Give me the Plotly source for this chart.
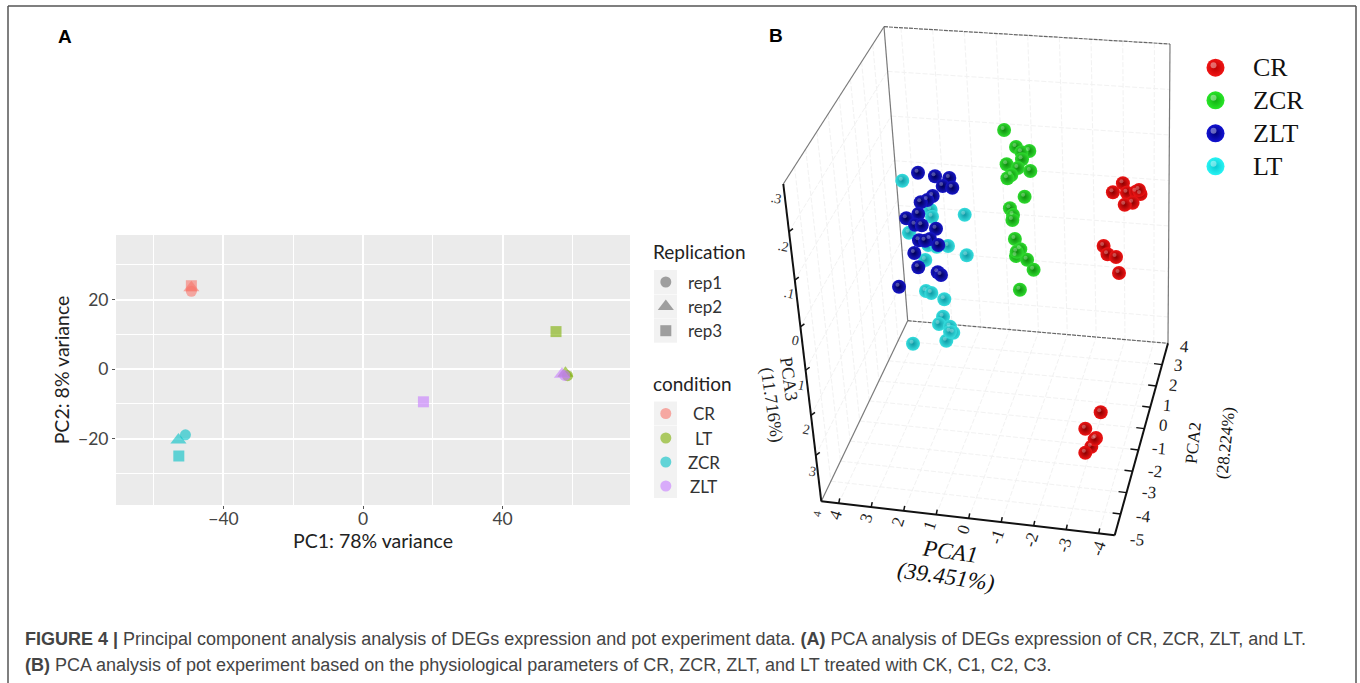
import plotly.graph_objects as go

W, H = 1360, 683

# ---------- Panel A data (PC1, PC2) ----------
conditions = ["CR", "LT", "ZCR", "ZLT"]
cond_colors = ["#F8766D", "#7CAE00", "#00BFC4", "#C77CFF"]
reps = ["rep1", "rep2", "rep3"]
rep_symbols = ["circle", "triangle-up", "square"]
rep_sizes = [11, 14, 11]
cr_pc1 = [-49.2, -49.2, -49.2]
cr_pc2 = [22.4, 23.4, 24.0]
lt_pc1 = [58.6, 58.0, 55.3]
lt_pc2 = [-1.9, -1.2, 10.8]
zcr_pc1 = [-50.9, -52.9, -52.8]
zcr_pc2 = [-18.9, -20.4, -25.0]
zlt_pc1 = [57.8, 57.0, 17.3]
zlt_pc2 = [-1.8, -1.5, -9.4]

# ---------- Panel B data (positions on the projected image plane) ----------
b_groups = ["CR", "ZCR", "ZLT", "LT"]
b_cr_x = [1122.9, 1112.9, 1126.9, 1135.9, 1140.5, 1132.6, 1124.7, 1139.0, 1103.6, 1107.5, 1116.0, 1119.0,
          1100.7, 1085.3, 1096.0, 1091.3, 1085.3, 1094.7]
b_cr_y = [183.3, 192.3, 192.7, 191.7, 194.0, 202.7, 204.7, 190.0, 246.0, 254.3, 257.0, 273.0,
          412.3, 428.7, 438.0, 446.7, 452.7, 439.3]
b_zcr_x = [1004.1, 1016.0, 1029.3, 1021.4, 1022.0, 1006.6, 1017.8, 1030.3, 1011.3, 1007.4, 1024.6, 1009.9,
           1013.0, 1012.4, 1014.9, 1020.3, 1016.0, 1027.1, 1033.6, 1019.9, 1016.7]
b_zcr_y = [130.0, 147.0, 151.0, 152.3, 159.3, 164.3, 168.0, 171.0, 175.0, 178.3, 196.7, 208.3,
           215.0, 220.0, 239.0, 249.3, 256.0, 259.7, 269.7, 289.7, 251.7]
b_zlt_x = [918.0, 935.0, 949.3, 942.7, 952.3, 932.7, 927.3, 920.7, 918.3, 906.3, 915.0, 921.7,
           936.0, 919.0, 930.0, 938.3, 914.3, 918.3, 937.7, 941.0, 899.0, 925.0]
b_zlt_y = [172.7, 176.3, 178.0, 186.0, 187.7, 196.0, 200.0, 202.3, 214.0, 218.3, 224.7, 225.3,
           228.7, 240.3, 239.0, 245.0, 253.0, 267.3, 272.3, 275.0, 286.7, 240.7]
b_lt_x = [902.3, 930.7, 932.0, 964.7, 909.0, 928.3, 948.0, 936.7, 966.7, 925.3, 926.0, 931.3,
          944.3, 943.0, 939.0, 950.0, 953.3, 946.3, 913.0, 950.0]
b_lt_y = [180.7, 210.0, 216.7, 214.7, 232.7, 245.0, 246.0, 246.7, 255.3, 260.0, 291.0, 293.0,
          299.3, 316.7, 324.0, 326.7, 332.7, 340.7, 343.7, 331.7]

pca1_ticks = ["4", "3", "2", "1", "0", "-1", "-2", "-3", "-4"]
pca2_ticks = ["4", "3", "2", "1", "0", "-1", "-2", "-3", "-4", "-5"]
pca3_ticks = [".3", ".2", ".1", "0", "1", "2", "3"]

SANS = "Liberation Sans"
SERIF = "Liberation Serif"
GG = "Lato"

fig = go.Figure()

def lines(segs, color, width, dash=None):
    xs, ys = [], []
    for (a, b) in segs:
        xs += [a[0], b[0], None]
        ys += [a[1], b[1], None]
    fig.add_trace(go.Scatter(x=xs, y=ys, mode="lines", xaxis="x2", yaxis="y2", hoverinfo="skip",
                             line=dict(color=color, width=width, dash=dash)))

def lerp(a, b, t):
    return (a[0] + (b[0] - a[0]) * t, a[1] + (b[1] - a[1]) * t)

def text(x, y, s, size, color="#111", font=SERIF, angle=0, xanchor="center"):
    fig.add_annotation(x=x, y=y, xref="x2", yref="y2", text=s, showarrow=False, textangle=angle,
                       xanchor=xanchor, yanchor="middle",
                       font=dict(family=font, size=size, color=color))

# ---------- Panel A ----------
a_x = [cr_pc1, lt_pc1, zcr_pc1, zlt_pc1]
a_y = [cr_pc2, lt_pc2, zcr_pc2, zlt_pc2]
for name, col, xs, ys in zip(conditions, cond_colors, a_x, a_y):
    for r, sym, sz, x, y in zip(reps, rep_symbols, rep_sizes, xs, ys):
        fig.add_trace(go.Scatter(x=[x], y=[y], mode="markers", name=f"{name} {r}",
                                 marker=dict(color=col, symbol=sym, size=sz, opacity=0.6, line=dict(width=0))))

# ---------- Panel B frame ----------
TL, TR = (884, 26.7), (1170, 44)
BL, BR = (907.7, 320.7), (1168, 343.3)
ZT, O = (783.3, 184), (821.3, 501.3)
XE = (1114.7, 535.3)

GRID = "#f2f2f2"
gseg = []
for k in range(1, 7):
    t = k * 0.152
    gseg.append((lerp(TL, BL, t), lerp(TR, BR, t)))
x_fracs = [(17.4 + 32.5 * i) / 293.4 for i in range(9)]
for t in x_fracs:
    gseg.append((lerp(TL, TR, t), lerp(BL, BR, t)))
    gseg.append((lerp(O, XE, t), lerp(BL, BR, t)))
y_fracs = [i / 9 for i in range(10)]
for t in y_fracs[1:-1]:
    gseg.append((lerp(O, BL, t), lerp(XE, BR, t)))
    gseg.append((lerp(ZT, TL, t), lerp(O, BL, t)))
z_fracs = [0.15, 0.303, 0.45, 0.587, 0.729, 0.855]
for t in z_fracs:
    gseg.append((lerp(ZT, O, t), lerp(TL, BL, t)))
lines(gseg, GRID, 1, "5px,2px")

lines([(ZT, TL), (TL, BL), (BL, O), (TR, BR)], "#7a7a7a", 1.2)
lines([(TL, TR), (BL, BR)], "#666666", 1.2, "4px,1px")
lines([(ZT, O), (O, XE), (XE, BR)], "#111111", 2)

tk = []
for t in x_fracs:
    p = lerp(O, XE, t)
    tk.append((p, (p[0] + 1, p[1] - 5)))
for t in y_fracs[1:-1]:
    p = lerp(XE, BR, t)
    tk.append((p, (p[0] - 8, p[1] - 1)))
for t in z_fracs:
    p = lerp(ZT, O, t)
    tk.append((p, (p[0] + 4, p[1] - 3)))
lines(tk, "#111111", 1.5)

# ---------- Panel B spheres ----------
ball_styles = [
    ("#EE1414", "#8C0000"),
    ("#2FDC2F", "#0D8C0D"),
    ("#1616C8", "#000056"),
    ("#36DEDE", "#0E98A4"),
]
b_x = [b_cr_x, b_zcr_x, b_zlt_x, b_lt_x]
b_y = [b_cr_y, b_zcr_y, b_zlt_y, b_lt_y]
for i in [3, 2, 1, 0]:
    inner, outer = ball_styles[i]
    fig.add_trace(go.Scatter(x=b_x[i], y=b_y[i], mode="markers", xaxis="x2", yaxis="y2", name=b_groups[i],
                             marker=dict(color=inner, size=14, line=dict(width=0),
                                         gradient=dict(type="radial", color=outer))))
    fig.add_trace(go.Scatter(x=[v - 1.5 for v in b_x[i]], y=[v - 2 for v in b_y[i]], mode="markers",
                             xaxis="x2", yaxis="y2", hoverinfo="skip",
                             marker=dict(color="white", size=4, opacity=0.28, line=dict(width=0))))

# Panel B legend
legend_colors = [("#F01515", "#C00000"), ("#28E628", "#12B012"), ("#1212D2", "#00007E"), ("#28F4F4", "#08C8D0")]
legend_y = [67.7, 100.3, 133.3, 166.3]
for g, (inner, outer), y in zip(b_groups, legend_colors, legend_y):
    fig.add_trace(go.Scatter(x=[1215.5], y=[y], mode="markers", xaxis="x2", yaxis="y2", name=g, hoverinfo="skip",
                             marker=dict(color=inner, size=18, line=dict(width=0),
                                         gradient=dict(type="radial", color=outer))))
    fig.add_trace(go.Scatter(x=[1213.5], y=[y - 2.5], mode="markers", xaxis="x2", yaxis="y2", hoverinfo="skip",
                             marker=dict(color="white", size=6, opacity=0.4, line=dict(width=0))))
    text(1251, y, g, 26, "#111", SERIF, xanchor="left")

# Panel B tick labels
xl = [(835, 515), (866, 518.3), (898.3, 521.7), (930, 525.7), (963.3, 529.3), (997.3, 536.7), (1030.7, 540), (1064, 545), (1098.3, 548.3)]
for s, (x, y) in zip(pca1_ticks, xl):
    text(x, y, s, 17, "#222", SERIF, angle=-72)
yl = [(1184, 346), (1178.3, 365), (1173.3, 385), (1167.3, 405), (1163.3, 425.7), (1159.3, 448.3), (1155, 471), (1149.3, 492.3), (1143.3, 516), (1136.7, 539.3)]
for s, (x, y) in zip(pca2_ticks, yl):
    text(x, y, s, 17, "#222", SERIF, angle=5)
zl = [(776.7, 198.3), (783.3, 246.7), (789, 293.3), (795, 340), (801.7, 385), (806.7, 429.3), (812.7, 471.7)]
for s, (x, y) in zip(pca3_ticks, zl):
    text(x, y, s, 14, "#333", SERIF, angle=12)
text(817.3, 513.3, "4", 11, "#333", SERIF, angle=-80)

# Panel B axis titles
text(950, 551.7, "<i>PCA1</i>", 23, "#111", SERIF, angle=8)
text(946, 576.7, "<i>(39.451%)</i>", 23, "#111", SERIF, angle=8)
text(1192.7, 443, "PCA2", 17, "#111", SERIF, angle=-84)
text(1225, 443, "(28.224%)", 17, "#111", SERIF, angle=-84)
text(789, 379, "PCA3", 18, "#222", SERIF, angle=82)
text(772, 405, "(11.716%)", 18, "#222", SERIF, angle=82)

# ---------- Panel A legend ----------
KEY = "#F2F2F2"
shapes = []
rep_y = [282, 306.5, 330.7]
cond_y = [413.5, 438, 462, 486]
for y in rep_y + cond_y:
    shapes.append(dict(type="rect", xref="x2", yref="y2", x0=654, x1=677, y0=y - 12, y1=y + 12,
                       fillcolor=KEY, line=dict(width=0), layer="below"))
fig.add_trace(go.Scatter(x=[665.8] * 3, y=rep_y, mode="markers", xaxis="x2", yaxis="y2", hoverinfo="skip",
                         marker=dict(color="#7a7a7a", symbol=rep_symbols, size=rep_sizes, line=dict(width=0))))
fig.add_trace(go.Scatter(x=[665.8] * 4, y=cond_y, mode="markers", xaxis="x2", yaxis="y2", hoverinfo="skip",
                         marker=dict(color=cond_colors, size=11, opacity=0.6, line=dict(width=0))))
text(651, 251, "Replication", 19, "#222", GG, xanchor="left")
text(651, 383, "condition", 19, "#222", GG, xanchor="left")
for s, y in zip(reps, rep_y):
    text(686, y, s, 17, "#333", GG, xanchor="left")
for s, y in zip(conditions, cond_y):
    text(703.6, y, s, 17, "#333", GG)

# Panel letters
text(65, 36, "<b>A</b>", 19, "#000", SANS)
text(776, 35.7, "<b>B</b>", 19, "#000", SANS)

# Caption
text(23, 639, "<b>FIGURE 4 |</b> Principal component analysis analysis of DEGs expression and pot experiment data. "
     "<b>(A)</b> PCA analysis of DEGs expression of CR, ZCR, ZLT, and LT.", 18, "#444", SANS, xanchor="left")
text(23, 665, "<b>(B)</b> PCA analysis of pot experiment based on the physiological parameters of CR, ZCR, ZLT, "
     "and LT treated with CK, C1, C2, C3.", 18, "#444", SANS, xanchor="left")

# Outer frame
lines([((8, 683), (8, 6)), ((8, 6), (1356, 6)), ((1356, 6), (1356, 683))], "#555555", 1.5)

fig.update_layout(
    width=W, height=H, margin=dict(l=0, r=0, t=0, b=0), showlegend=False,
    paper_bgcolor="white", plot_bgcolor="rgba(0,0,0,0)", shapes=shapes, hovermode="closest",
    xaxis=dict(domain=[116 / W, 630 / W], range=[-70.8, 76.5], tickvals=[-40, 0, 40], ticks="outside", ticklen=3,
               ticklabelstandoff=-5,
               tickcolor="#555", showgrid=True, gridcolor="white", gridwidth=1.5, zeroline=False,
               tickfont=dict(family=GG, size=17.5, color="#444"),
               title=dict(text="PC1: 78% variance", font=dict(family=GG, size=19.5, color="#222"), standoff=2),
               minor=dict(tickvals=[-60, -20, 20, 60], showgrid=True, gridcolor="white", gridwidth=0.7, ticks="")),
    yaxis=dict(domain=[1 - 505 / H, 1 - 235 / H], range=[-39.1, 38.6], tickvals=[-20, 0, 20], ticks="outside", ticklen=3,
               tickcolor="#555", showgrid=True, gridcolor="white", gridwidth=1.5, zeroline=False,
               tickfont=dict(family=GG, size=17.5, color="#444"),
               title=dict(text="PC2: 8% variance", font=dict(family=GG, size=19.5, color="#222"), standoff=3),
               minor=dict(tickvals=[-30, -10, 10, 30], showgrid=True, gridcolor="white", gridwidth=0.7, ticks="")),
    xaxis2=dict(domain=[0, 1], range=[0, W], visible=False, anchor="y2", fixedrange=True),
    yaxis2=dict(domain=[0, 1], range=[H, 0], visible=False, anchor="x2", fixedrange=True),
)
# the panel background sits under everything
fig.add_shape(type="rect", xref="x domain", yref="y domain", x0=0, x1=1, y0=0, y1=1,
              fillcolor="#EBEBEB", line=dict(width=0), layer="below")

fig.write_html("out.html", config={"displayModeBar": False},
               post_script="document.body.style.margin='0';document.body.style.overflow='hidden';")
